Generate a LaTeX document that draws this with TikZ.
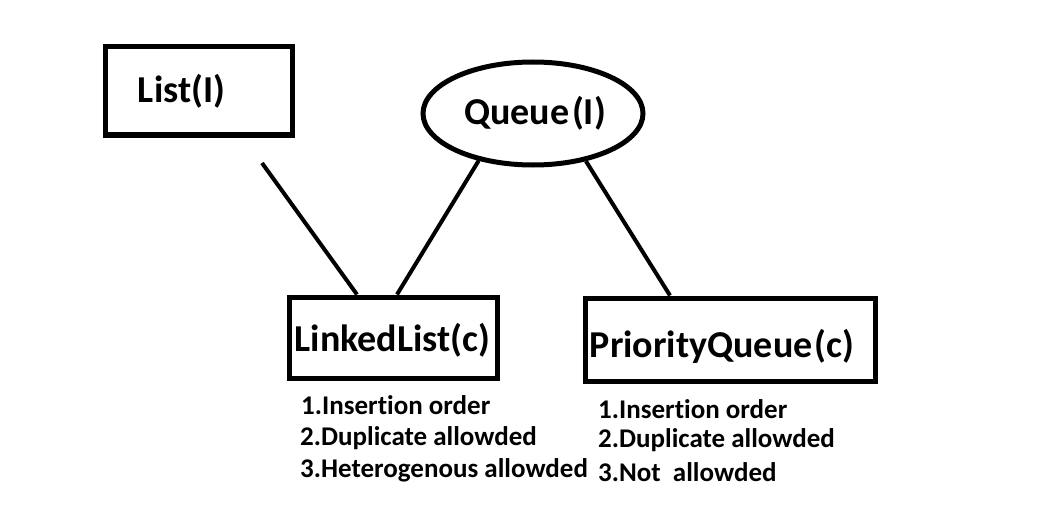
\documentclass[tikz,border=0pt]{standalone}
\usepackage{fontspec}
\setmainfont[Ligatures={NoCommon}]{Carlito}
\usetikzlibrary{shapes.geometric}
\begin{document}
\begin{tikzpicture}[x=1pt,y=-1pt,
  boxst/.style={draw=black,line width=5pt,rectangle,inner sep=0pt},
  ellst/.style={draw=black,line width=5pt,ellipse,inner sep=0pt},
  bigtxt/.style={font=\bfseries\fontsize{38}{42}\selectfont},
  smalltxt/.style={font=\bfseries\fontsize{27}{32}\selectfont,anchor=west,inner sep=0pt},
  conn/.style={line width=4pt}]
\useasboundingbox (0,0) rectangle (1054,508);
\node[boxst,minimum width=187pt,minimum height=88pt] (list) at (198.5,91) {};
\node[bigtxt] (listt) at (181.5,91) {List(I)};
\node[ellst,minimum width=220pt,minimum height=103pt] (queue) at (533,113.5) {};
\node[bigtxt] (queuet) at (535,113) {Queue\kern3pt(I)};
\node[boxst,minimum width=208pt,minimum height=81pt] (ll) at (393,337.5) {};
\node[bigtxt] (llt) at (392.5,340) {LinkedList(c)};
\node[boxst,minimum width=290pt,minimum height=83pt] (pq) at (730,339.5) {};
\node[bigtxt] (pqt) at (722,346) {PriorityQueue\kern2pt(c)};
\node[smalltxt] (l1) at (301,405) {1.Insertion order};
\node[smalltxt] (l2) at (300,438) {2.Duplicate allowded};
\node[smalltxt] (l3) at (300,470) {3.Heterogenous allowded};
\node[smalltxt] (p1) at (598,409) {1.Insertion order};
\node[smalltxt] (p2) at (598,440) {2.Duplicate allowded};
\node[smalltxt] (p3) at (598,472) {3.Not\ \ allowded};
\coordinate (lstart) at (262,163);
\draw[conn] (lstart) -- ([xshift=-36pt]ll.north);
\draw[conn] (queue.221) -- ([xshift=4pt]ll.north);
\draw[conn] (queue.318) -- ([xshift=-60pt]pq.north);
\end{tikzpicture}
\end{document}
